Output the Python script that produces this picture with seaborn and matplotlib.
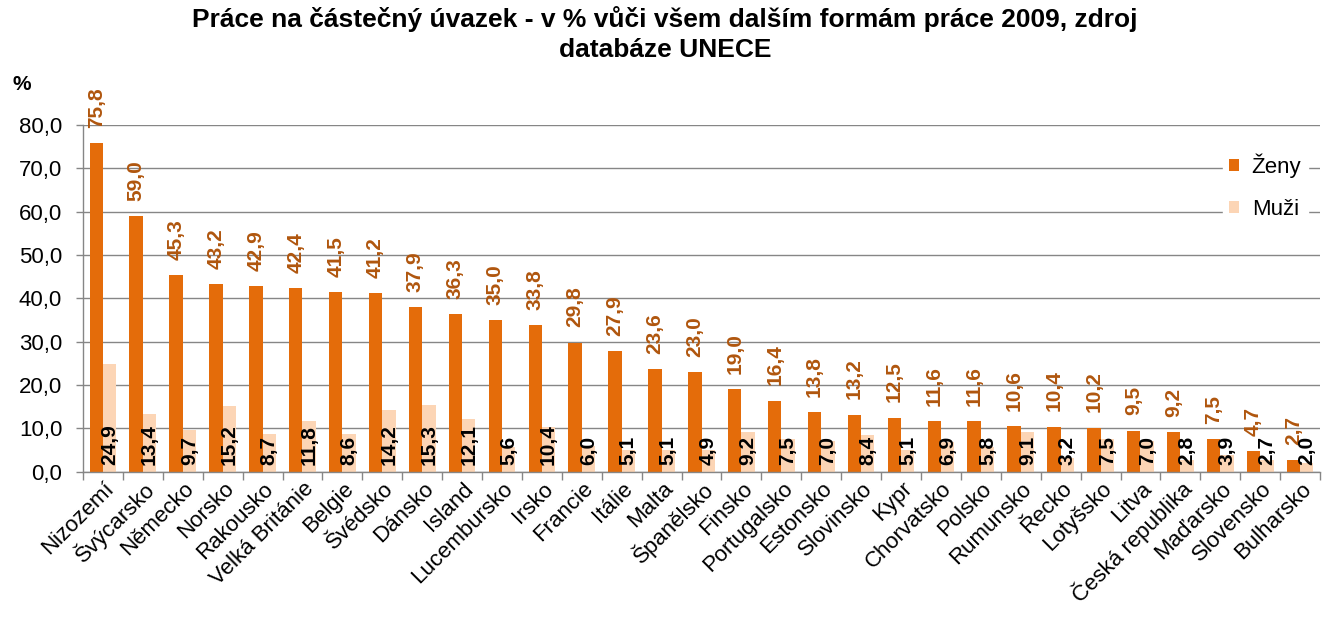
import matplotlib
matplotlib.use("Agg")
import matplotlib.pyplot as plt
import seaborn as sns
import pandas as pd
import numpy as np
from matplotlib.ticker import FixedLocator, FuncFormatter
from matplotlib.transforms import ScaledTranslation

countries = ["Nizozemí", "Švýcarsko", "Německo", "Norsko", "Rakousko", "Velká Británie",
             "Belgie", "Švédsko", "Dánsko", "Island", "Lucembursko", "Irsko", "Francie",
             "Itálie", "Malta", "Španělsko", "Finsko", "Portugalsko", "Estonsko", "Slovinsko",
             "Kypr", "Chorvatsko", "Polsko", "Rumunsko", "Řecko", "Lotyšsko", "Litva",
             "Česká republika", "Maďarsko", "Slovensko", "Bulharsko"]
zeny = [75.8, 59.0, 45.3, 43.2, 42.9, 42.4, 41.5, 41.2, 37.9, 36.3, 35.0, 33.8, 29.8,
        27.9, 23.6, 23.0, 19.0, 16.4, 13.8, 13.2, 12.5, 11.6, 11.6, 10.6, 10.4, 10.2, 9.5,
        9.2, 7.5, 4.7, 2.7]
muzi = [24.9, 13.4, 9.7, 15.2, 8.7, 11.8, 8.6, 14.2, 15.3, 12.1, 5.6, 10.4, 6.0,
        5.1, 5.1, 4.9, 9.2, 7.5, 7.0, 8.4, 5.1, 6.9, 5.8, 9.1, 3.2, 7.5, 7.0,
        2.8, 3.9, 2.7, 2.0]
series_names = ["Ženy", "Muži"]
yticks = [0, 10, 20, 30, 40, 50, 60, 70, 80]
title = "Práce na částečný úvazek - v % vůči všem dalším formám práce 2009, zdroj\ndatabáze UNECE"

C_Z = "#E46C0A"
C_M = "#FCD5B5"
C_LBL = "#B0560E"
GRID = "#868686"

sns.set_theme(style="white")
plt.rcParams["font.family"] = ["Liberation Sans", "DejaVu Sans"]
plt.rcParams["text.color"] = "black"
plt.rcParams["xtick.color"] = "black"
plt.rcParams["ytick.color"] = "black"

df = pd.DataFrame({
    "country": countries * 2,
    "value": zeny + muzi,
    "series": [series_names[0]] * len(countries) + [series_names[1]] * len(countries),
})

fig = plt.figure(figsize=(13.3, 6.21), dpi=100)
ax = fig.add_axes([0.0624, 0.2404, 0.9301, 0.5583])

sns.barplot(data=df, x="country", y="value", hue="series", order=countries,
            hue_order=series_names, palette=[C_Z, C_M], width=0.67, gap=0,
            saturation=1, ax=ax, errorbar=None, legend=True, linewidth=0, edgecolor="none")

n = len(countries)
ax.set_xlim(-0.5, n - 0.5)
ax.set_ylim(0, 80)
ax.set_yticks(yticks)
ax.yaxis.set_major_formatter(FuncFormatter(lambda v, p: f"{v:.1f}".replace(".", ",")))
ax.tick_params(axis="y", labelsize=16, length=5, color=GRID, width=1, pad=10,
               direction="out", left=True, labelcolor="black")
ax.grid(axis="y", color=GRID, linewidth=1)
ax.set_axisbelow(True)

# category boundary ticks
ax.xaxis.set_minor_locator(FixedLocator(np.arange(-0.5, n, 1.0)))
ax.tick_params(axis="x", which="minor", length=6, color=GRID, width=1, bottom=True)
ax.tick_params(axis="x", which="major", length=0, pad=0, labelcolor="black")
ax.set_xticks(range(n))
ax.set_xticklabels(countries, rotation=45, ha="right", va="center",
                   rotation_mode="anchor", fontsize=16)
for lbl in ax.get_xticklabels():
    lbl.set_transform(lbl.get_transform() + ScaledTranslation(8/100, -14/100, fig.dpi_scale_trans))

for s in ["top", "right"]:
    ax.spines[s].set_visible(False)
for s in ["left", "bottom"]:
    ax.spines[s].set_color(GRID)
    ax.spines[s].set_linewidth(1)
ax.set_xlabel("")
ax.set_ylabel("")

# data labels
cont_z, cont_m = ax.containers[0], ax.containers[1]
for bar, v in zip(cont_z, zeny):
    x = bar.get_x() + bar.get_width() / 2
    ax.text(x, v + 3.5, f"{v:.1f}".replace(".", ","), rotation=90, ha="center", va="bottom",
            fontsize=15, fontweight="bold", color=C_LBL, clip_on=False)
for bar, v in zip(cont_m, muzi):
    x = bar.get_x() + bar.get_width() / 2
    ax.text(x, 1.5, f"{v:.1f}".replace(".", ","), rotation=90, ha="center", va="bottom",
            fontsize=15, fontweight="bold", color="black", clip_on=False)

leg = ax.legend(loc="center left", bbox_to_anchor=(0.911, 0.6997),
                bbox_transform=fig.transFigure, frameon=True, fontsize=16,
                handlelength=0.45, handleheight=0.45, labelspacing=0.95, handletextpad=0.55,
                borderpad=0.3, fancybox=False)
leg.get_frame().set_edgecolor("white")
leg.get_frame().set_facecolor("white")
leg.get_frame().set_alpha(1)
for t in leg.get_texts():
    t.set_color("black")

fig.text(0.5, 0.99, title, ha="center", va="top", fontsize=19, fontweight="bold",
         linespacing=1.32, color="black")
fig.text(22/1330, 1 - 85/621, "%", ha="center", va="center", fontsize=15,
         fontweight="bold", color="black")

fig.savefig("out.png", dpi=100)
